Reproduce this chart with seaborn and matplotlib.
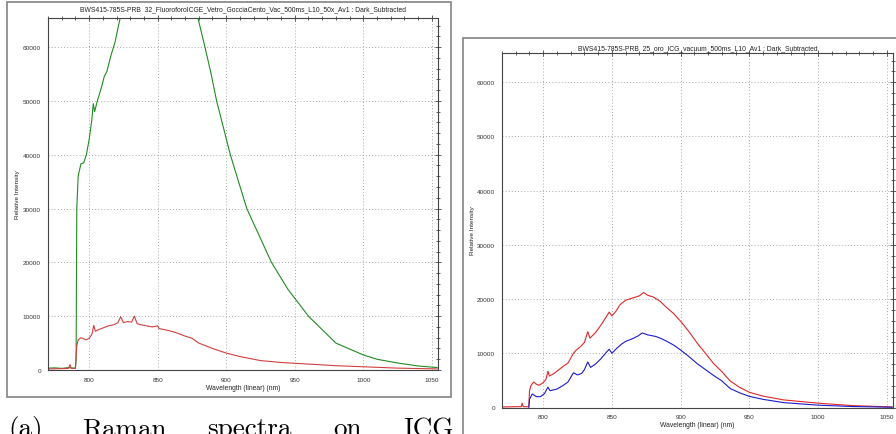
import numpy as np
import pandas as pd
import matplotlib
matplotlib.use("Agg")
import matplotlib.pyplot as plt
import matplotlib.patches as patches
from matplotlib.ticker import MultipleLocator
import seaborn as sns

# left panel: fluorophore ICG on glass (green) and red trace
wl_green_a = [770, 775, 780, 785, 788, 790, 790.5, 791, 792, 794, 796, 798, 800, 802, 803, 804,
              806, 809, 811, 813, 816, 819, 821, 823, 835, 850, 865, 879, 884.5, 889, 893, 898,
              903, 909, 915, 924, 933, 945, 960, 980, 1000, 1010, 1025, 1040, 1054]
int_green_a = [350, 400, 300, 450, 350, 400, 2000, 30000, 36000, 38300, 38500, 40000, 42800, 46500,
               49500, 48000, 50000, 52500, 54500, 55500, 58500, 61000, 63500, 65800, 74000, 78000,
               74000, 65800, 60000, 55000, 50000, 45000, 40000, 35000, 30000, 25000, 20000, 15000,
               10000, 5000, 2800, 2000, 1300, 750, 450]

wl_red_a = [770, 780, 785, 786, 787, 790, 791, 792, 794, 796, 798, 800, 802, 803.4, 804.5, 807, 810,
            814, 818, 821, 823, 825, 828, 831, 833, 835, 838, 842, 846, 850, 851, 855, 860, 865, 870,
            875, 880, 885, 890, 900, 910, 925, 940, 960, 980, 1000, 1025, 1054]
int_red_a = [200, 250, 300, 1000, 300, 300, 4500, 5600, 6000, 5800, 5600, 5900, 6600, 8300, 7200,
             7500, 7800, 8200, 8400, 8800, 9900, 8800, 9000, 8900, 10000, 8600, 8400, 8200, 8000,
             8200, 7700, 7500, 7200, 6800, 6300, 5900, 5000, 4500, 4000, 3150, 2500, 1750, 1400,
             1100, 800, 600, 350, 200]

# right panel: gold + ICG in vacuum
wl_red_b = [770, 780, 784, 784.6, 785.5, 789.5, 790, 791, 793, 795, 797, 800, 802, 803.4, 804.5,
            808, 814, 818, 822, 824, 827, 830, 832.4, 834, 838, 842, 846, 848, 850, 853, 856, 860,
            865, 870, 873, 876, 880, 885, 890, 895, 900, 906, 912, 918, 924, 930, 936, 943, 950,
            960, 975, 1000, 1025, 1054]
int_red_b = [100, 150, 150, 800, 150, 150, 3000, 4000, 4700, 4300, 4100, 4600, 5200, 6700, 5800,
             6300, 7500, 8200, 10000, 10600, 11200, 12000, 14000, 12800, 13800, 15200, 16800, 17600,
             16900, 17800, 19000, 19800, 20200, 20600, 21200, 20700, 20400, 19600, 18400, 17300,
             15900, 14000, 11900, 10000, 8100, 6600, 4900, 3700, 2800, 2100, 1400, 800, 350, 100]

wl_blue_b = [789.5, 790, 792, 795, 798, 801, 803.4, 805, 810, 814, 818, 822, 825, 828, 830, 832.4,
             834.5, 838, 842, 846, 848, 850, 853, 857, 860, 865, 869, 872, 876, 882, 886, 890, 895,
             900, 906, 912, 918, 924, 930, 936, 943, 950, 960, 975, 1000, 1025, 1054]
int_blue_b = [0, 1500, 2500, 2000, 2000, 2600, 3750, 3100, 3400, 4000, 4700, 6400, 6000, 6300, 7000,
              8400, 7400, 8000, 9000, 10200, 10750, 10000, 10800, 11700, 12200, 12700, 13200, 13750,
              13400, 13100, 12700, 12200, 11500, 10600, 9400, 8100, 7000, 5900, 4900, 3500, 2700,
              2050, 1500, 900, 430, 180, 50]

title_a = "BWS415-785S-PRB  32_FluoroforoICGE_Vetro_GocciaCento_Vac_500ms_L10_50x_Av1 : Dark_Subtracted"
title_b = "BWS415-785S-PRB  25_oro_ICG_vacuum_500ms_L10_Av1 : Dark_Subtracted"
caption_words = ["(a)", "Raman", "spectra", "on", "ICG"]
caption_x = [8, 82, 207, 333, 403]

sns.set_style("white")
plt.rcParams['font.family'] = ['Liberation Sans', 'DejaVu Sans']

W, H = 896, 435
fig = plt.figure(figsize=(W / 100, H / 100), dpi=100)


def px_box(x0, y0, x1, y1):
    return [x0 / W, 1 - y1 / H, (x1 - x0) / W, (y1 - y0) / H]


def style_axes(ax, title, title_y, xlabel_y, x0, x1):
    ax.set_xlim(770, 1054.5)
    ax.set_ylim(0, 65400)
    ax.xaxis.set_major_locator(MultipleLocator(50))
    ax.xaxis.set_minor_locator(MultipleLocator(10))
    ax.yaxis.set_major_locator(MultipleLocator(10000))
    ax.yaxis.set_minor_locator(MultipleLocator(2000))
    ax.set_xticks([800, 850, 900, 950, 1000, 1050])
    ax.tick_params(which='both', direction='inout', top=True, right=True,
                   labeltop=False, labelright=False, colors='#444444',
                   labelcolor='#333333', labelsize=4.6, width=0.6)
    ax.tick_params(which='major', length=5, pad=2.5)
    ax.tick_params(which='minor', length=3)
    ax.grid(True, which='major', linestyle=(0, (1, 2.2)), color='#a8a8a8', linewidth=0.7)
    for s in ax.spines.values():
        s.set_color('#444444')
        s.set_linewidth(0.8)
    ax.set_xlabel("")
    ax.set_ylabel("")
    cx = (x0 + x1) / 2
    fig.text(cx / W, 1 - title_y / H, title, ha='center', va='center', fontsize=4.9, color='#222222')
    fig.text(cx / W, 1 - xlabel_y / H, "Wavelength (linear) (nm)", ha='center', va='center',
             fontsize=4.9, color='#222222')


# frames of the two screenshots
fig.patches.append(patches.Rectangle((7 / W, 1 - 398 / H), 444 / W, 395 / H, transform=fig.transFigure,
                                     fill=False, edgecolor='#8c8c8c', linewidth=1.3))
fig.patches.append(patches.Rectangle((463 / W, 1 - 445 / H), 445 / W, 406 / H, transform=fig.transFigure,
                                     fill=False, edgecolor='#8c8c8c', linewidth=1.3))

ax1 = fig.add_axes(px_box(48, 19, 438, 371))
df_g = pd.DataFrame({"wl": wl_green_a, "I": int_green_a})
df_r = pd.DataFrame({"wl": wl_red_a, "I": int_red_a})
sns.lineplot(data=df_g, x="wl", y="I", ax=ax1, color='#228b22', linewidth=0.8, sort=False, estimator=None)
sns.lineplot(data=df_r, x="wl", y="I", ax=ax1, color='#d04040', linewidth=0.8, sort=False, estimator=None)
style_axes(ax1, title_a, 10, 389, 48, 438)
fig.text(17 / W, 1 - 195 / H, "Relative Intensity", rotation=90, ha='center', va='center',
         fontsize=4.6, color='#222222')

ax2 = fig.add_axes(px_box(502, 54, 893, 408.5))
df_rb = pd.DataFrame({"wl": wl_red_b, "I": int_red_b})
df_bb = pd.DataFrame({"wl": wl_blue_b, "I": int_blue_b})
sns.lineplot(data=df_rb, x="wl", y="I", ax=ax2, color='#e02828', linewidth=0.8, sort=False, estimator=None)
sns.lineplot(data=df_bb, x="wl", y="I", ax=ax2, color='#1c1cc8', linewidth=0.8, sort=False, estimator=None)
style_axes(ax2, title_b, 49, 426, 502, 893)
fig.text(472 / W, 1 - 231 / H, "Relative Intensity", rotation=90, ha='center', va='center',
         fontsize=4.6, color='#222222')

# caption, cut by the bottom edge as in the reference
for word, x in zip(caption_words, caption_x):
    fig.text(x / W, 1 - 436.5 / H, word, ha='left', va='baseline', fontsize=19.5,
             family=['cmr10', 'DejaVu Serif'], color='black')

fig.savefig("out.png", dpi=100)
